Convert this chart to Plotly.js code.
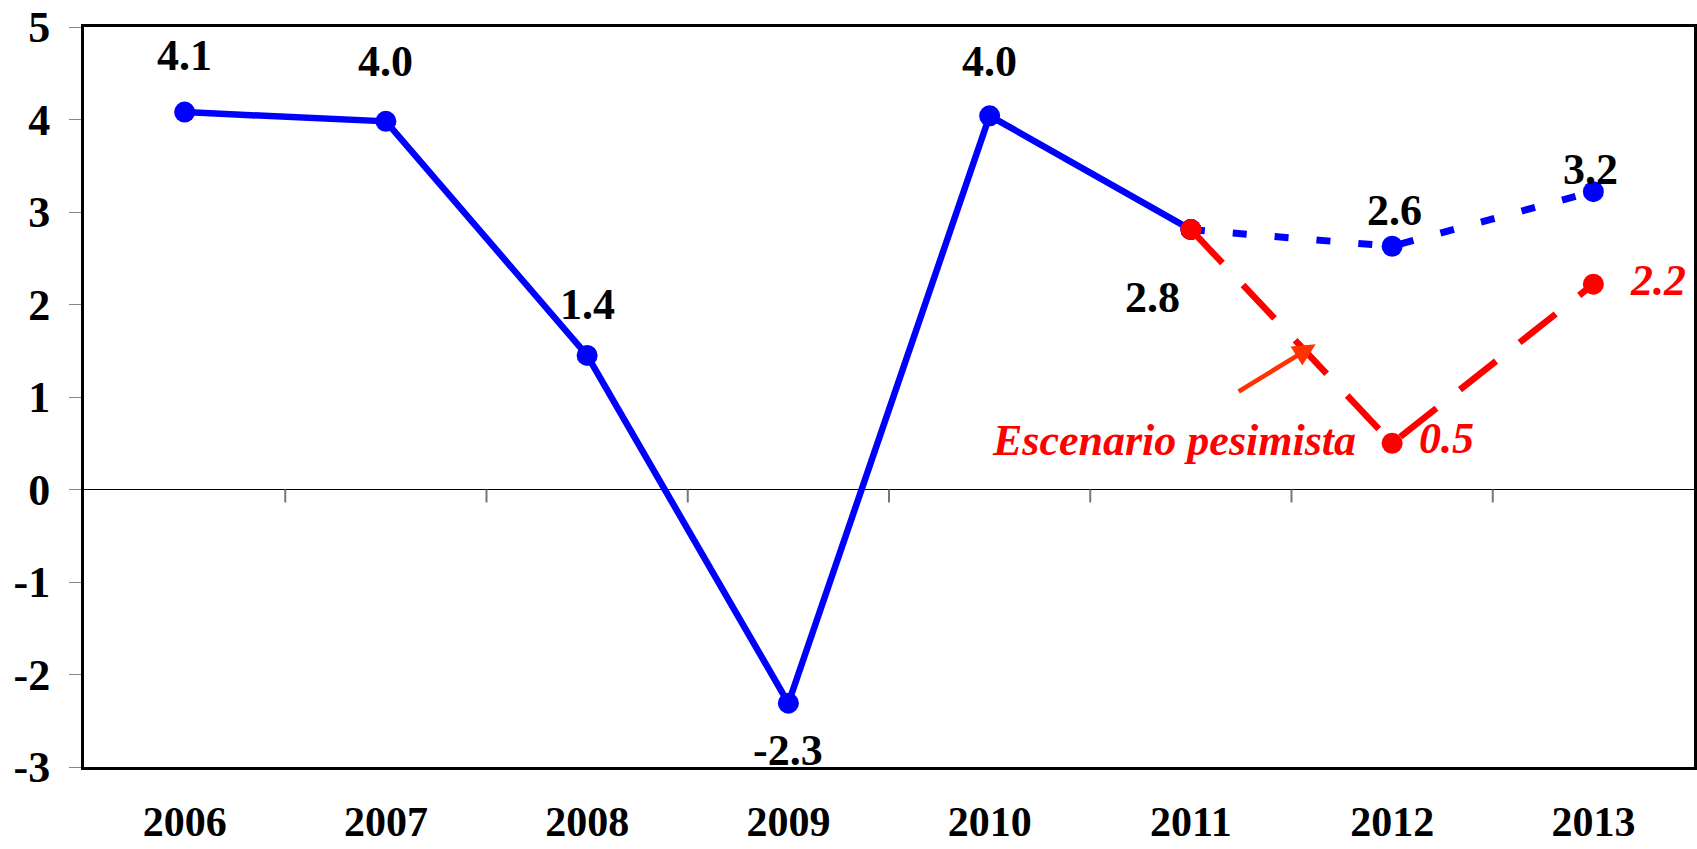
<!DOCTYPE html>
<html>
<head>
<meta charset="utf-8">
<script src="https://cdn.plot.ly/plotly-3.0.1.min.js"></script>
<style>html,body{margin:0;padding:0;background:#fff;}#chart{width:1697px;height:849px;}</style>
</head>
<body>
<div id="chart"></div>
<script>
// ---- data ----
const years = ['2006','2007','2008','2009','2010','2011','2012','2013'];
const histYears = ['2006','2007','2008','2009','2010','2011'];
const histValues = [4.08, 3.98, 1.45, -2.31, 4.04, 2.81];
const histLabels = ['4.1','4.0','1.4','-2.3','4.0','2.8'];
const baseYears = ['2011','2012','2013'];
const baseValues = [2.81, 2.63, 3.22];
const baseLabels = [null, '2.6', '3.2'];
const pessYears = ['2011','2012','2013'];
const pessValues = [2.81, 0.50, 2.22];
const pessLabels = [null, '0.5', '2.2'];
const scenarioText = 'Escenario pesimista';
const yTicks = [-3,-2,-1,0,1,2,3,4,5];

// ---- styles ----
const FONT = "'Liberation Serif', serif";
const BLUE = '#0000FF', RED = '#FF0000', ORANGE = '#FF3300';
const idx = yr => years.indexOf(yr);

const traces = [
  {x: histYears, y: histValues, mode: 'lines+markers', line: {color: BLUE, width: 6.5},
   marker: {color: BLUE, size: 21}, hoverinfo: 'skip'},
  {x: baseYears, y: baseValues, mode: 'lines+markers', line: {color: BLUE, width: 7, dash: '14px,28px'},
   marker: {color: BLUE, size: 21}, hoverinfo: 'skip'},
  {x: pessYears, y: pessValues, mode: 'lines+markers', line: {color: RED, width: 6.5, dash: '46px,30px'},
   marker: {color: RED, size: 21}, hoverinfo: 'skip'}
];

const labelFont = {family: FONT, size: 44, color: '#000', weight: 'bold'};
const redFont = {family: FONT, size: 44, color: RED, weight: 'bold', style: 'italic'};
const histOffsets = [[0,-57],[0,-60],[0,-51],[0,47],[0,-54],[-38,68]];
const annotations = [];
histYears.forEach((yr, i) => annotations.push({x: idx(yr), y: histValues[i], xref: 'x', yref: 'y',
  text: histLabels[i], showarrow: false, font: labelFont, xshift: histOffsets[i][0], yshift: -histOffsets[i][1]}));
const baseOffsets = [null, [2,-36], [-3,-22]];
baseYears.forEach((yr, i) => { if (baseLabels[i]) annotations.push({x: idx(yr), y: baseValues[i], xref: 'x', yref: 'y',
  text: baseLabels[i], showarrow: false, font: labelFont, xshift: baseOffsets[i][0], yshift: -baseOffsets[i][1]}); });
const pessOffsets = [null, [54,-5], [65,-4]];
pessYears.forEach((yr, i) => { if (pessLabels[i]) annotations.push({x: idx(yr), y: pessValues[i], xref: 'x', yref: 'y',
  text: pessLabels[i], showarrow: false, font: redFont, xshift: pessOffsets[i][0], yshift: -pessOffsets[i][1]}); });
// scenario label, anchored to the pessimistic 2012 point
annotations.push({x: idx(pessYears[1]), y: pessValues[1], xref: 'x', yref: 'y', text: scenarioText, showarrow: false,
  font: redFont, xanchor: 'right', xshift: -34, yshift: 3});
// arrow
annotations.push({x: 5.62, y: 1.57, xref: 'x', yref: 'y', ax: 5.23, ay: 1.05, axref: 'x', ayref: 'y',
  text: '', showarrow: true, arrowhead: 2, arrowsize: 1, arrowwidth: 4.5, arrowcolor: ORANGE, standoff: 0});

// tick marks along zero line at category boundaries
const shapes = [];
for (let i = 0; i < years.length - 1; i++) {
  shapes.push({type: 'line', xref: 'x', yref: 'y', ysizemode: 'pixel', yanchor: 0,
    x0: i + 0.5, x1: i + 0.5, y0: 0, y1: -13, line: {color: '#777', width: 2}});
}

const layout = {
  width: 1697, height: 849,
  margin: {l: 84, r: 3, t: 27, b: 82},
  paper_bgcolor: '#fff', plot_bgcolor: '#fff',
  showlegend: false,
  xaxis: {type: 'category', categoryarray: years, categoryorder: 'array', range: [-0.5, 7.5], showgrid: false, zeroline: false,
    showline: true, mirror: true, linecolor: '#000', linewidth: 3, ticks: '',
    ticklabelstandoff: 16, tickfont: {family: FONT, size: 42, color: '#000', weight: 'bold'}},
  yaxis: {range: [-3, 5], tickvals: yTicks, ticktext: yTicks.map(String), showgrid: false,
    zeroline: true, zerolinecolor: '#000', zerolinewidth: 1,
    showline: true, mirror: true, linecolor: '#000', linewidth: 3,
    ticks: 'outside', ticklen: 12, tickcolor: '#888', tickwidth: 1, ticklabelstandoff: 10,
    ticklabeloverflow: 'allow',
    tickfont: {family: FONT, size: 44, color: '#000', weight: 'bold'}},
  annotations: annotations,
  shapes: shapes
};

Plotly.newPlot('chart', traces, layout, {staticPlot: true, displayModeBar: false});
</script>
</body>
</html>
